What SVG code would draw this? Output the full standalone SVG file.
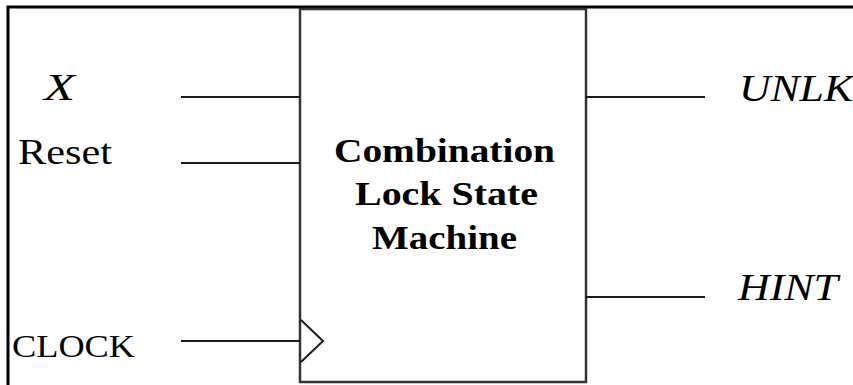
<svg xmlns="http://www.w3.org/2000/svg" width="853" height="385" viewBox="0 0 853 385">
<style>
.w{stroke:#1a1a1a;stroke-width:2;fill:none}
.lbl{font-family:"Liberation Serif","Times New Roman",serif;fill:#000}
.it{font-style:italic}
.b{font-weight:bold;text-anchor:middle}
</style>
<rect width="853" height="385" fill="#fff"/>
<path d="M8,385 V7 H853" fill="none" stroke="#000" stroke-width="3"/>
<g id="fsm">
<rect x="300" y="9" width="286" height="373" fill="#fff" stroke="#333" stroke-width="2.5"/>
<polyline points="301,320 323,341 301,362" class="w" stroke-width="2.5"/>
<text class="lbl b" x="444.5" y="162" font-size="34" textLength="221" lengthAdjust="spacingAndGlyphs">Combination</text>
<text class="lbl b" x="446.5" y="205" font-size="34" textLength="183" lengthAdjust="spacingAndGlyphs">Lock State</text>
<text class="lbl b" x="444.5" y="249" font-size="34" textLength="145" lengthAdjust="spacingAndGlyphs">Machine</text>
</g>
<g id="in-x"><text class="lbl it" x="44" y="100" font-size="38" textLength="31" lengthAdjust="spacingAndGlyphs">X</text></g>
<g id="in-reset"><text class="lbl" x="18" y="164" font-size="36" textLength="94" lengthAdjust="spacingAndGlyphs">Reset</text></g>
<g id="in-clock"><text class="lbl" x="12" y="357" font-size="32" textLength="123" lengthAdjust="spacingAndGlyphs">CLOCK</text></g>
<g id="out-unlk"><text class="lbl it" x="739" y="101" font-size="38" textLength="114" lengthAdjust="spacingAndGlyphs">UNLK</text></g>
<g id="out-hint"><text class="lbl it" x="738" y="300" font-size="38" textLength="100" lengthAdjust="spacingAndGlyphs">HINT</text></g>
<g id="connectors">
<line class="w" x1="181" y1="97" x2="300" y2="97"/>
<line class="w" x1="181" y1="163" x2="300" y2="163"/>
<line class="w" x1="181" y1="341" x2="300" y2="341"/>
<line class="w" x1="586" y1="97" x2="705" y2="97"/>
<line class="w" x1="586" y1="297" x2="705" y2="297"/>
</g>
</svg>
